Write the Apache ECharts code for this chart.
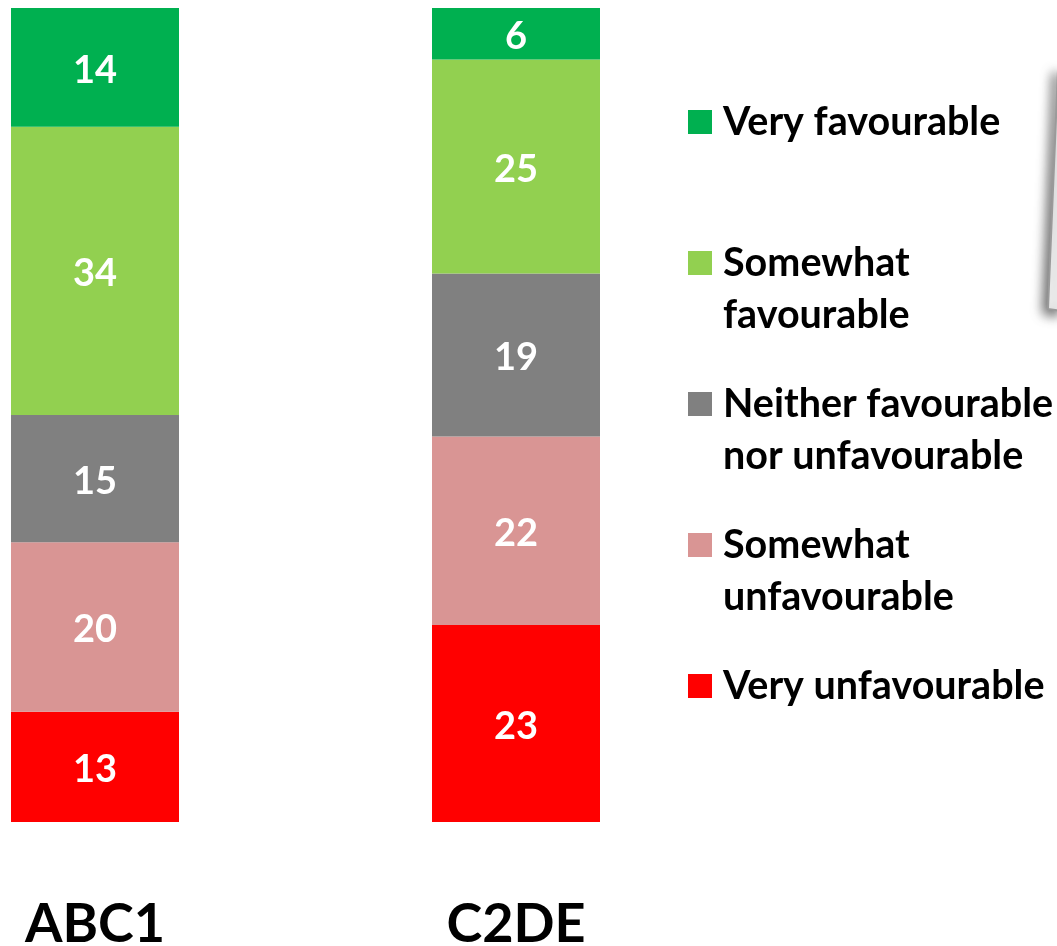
<!DOCTYPE html>
<html>
<head>
<meta charset="utf-8">
<script src="https://cdn.jsdelivr.net/npm/echarts@6/dist/echarts.min.js"></script>
<style>
html,body{margin:0;padding:0;background:#fff;overflow:hidden;}
#chart{width:1057px;height:946px;}
</style>
</head>
<body>
<div id="chart"></div>
<script>
const categories = ['ABC1', 'C2DE'];
const veryFavourable = [14, 6];
const somewhatFavourable = [34, 25];
const neither = [15, 19];
const somewhatUnfavourable = [20, 22];
const veryUnfavourable = [13, 23];

const seriesNames = ['Very unfavourable', 'Somewhat unfavourable', 'Neither favourable nor unfavourable', 'Somewhat favourable', 'Very favourable'];
const legendOrder = ['Very favourable', 'Somewhat favourable', 'Neither favourable nor unfavourable', 'Somewhat unfavourable', 'Very unfavourable'];
const legendLines = {
  'Very favourable': ['Very favourable'],
  'Somewhat favourable': ['Somewhat', 'favourable'],
  'Neither favourable nor unfavourable': ['Neither favourable', 'nor unfavourable'],
  'Somewhat unfavourable': ['Somewhat', 'unfavourable'],
  'Very unfavourable': ['Very unfavourable']
};
const colors = ['#FF0000', '#D99594', '#808080', '#92D050', '#00B050'];
const raw = [veryUnfavourable, somewhatUnfavourable, neither, somewhatFavourable, veryFavourable];

const totals = categories.map((c, j) => raw.reduce((s, arr) => s + arr[j], 0));

const FONT = 'Lato';

const chart = echarts.init(document.getElementById('chart'), null, {renderer: 'canvas', width: 1057, height: 946});

// every legend entry is 3 lines tall, with its first text line centred on the marker
function legendText(n) {
  const lines = legendLines[n].slice();
  const out = ['\u00a0'].concat(lines);
  while (out.length < 3) out.push('\u00a0');
  return out.join('\n');
}

chart.setOption({
  animation: false,
  backgroundColor: '#ffffff',
  grid: {left: 95, width: 421, top: 8, height: 814, containLabel: false, outerBoundsMode: 'none'},
  xAxis: {
    type: 'category',
    data: categories,
    boundaryGap: false,
    axisLine: {show: false},
    axisTick: {show: false},
    splitLine: {show: false},
    axisLabel: {
      color: '#000',
      fontFamily: FONT,
      fontWeight: 'bold',
      fontSize: 54,
      lineHeight: 64,
      verticalAlign: 'top',
      margin: 71
    }
  },
  yAxis: {type: 'value', min: 0, max: 100, show: false},
  legend: {
    orient: 'vertical',
    left: 688,
    top: 44,
    padding: 0,
    itemGap: -15,
    itemWidth: 24,
    itemHeight: 24,
    icon: 'rect',
    selectedMode: false,
    formatter: n => legendText(n),
    textStyle: {color: '#000', fontFamily: FONT, fontWeight: 'bold', fontSize: 39.5, lineHeight: 52, padding: [0, 0, 0, 6]},
    data: legendOrder
  },
  graphic: [{
    type: 'polygon',
    shape: {points: [[1058, 70], [1048, 309], [1062, 311], [1062, 70]]},
    style: {fill: '#fff', stroke: '#9a9a9a', lineWidth: 2, shadowBlur: 12, shadowColor: 'rgba(0,0,0,0.6)', shadowOffsetX: -4, shadowOffsetY: 4},
    z: 10
  }],
  series: seriesNames.map((name, i) => ({
    name: name,
    type: 'bar',
    stack: 'total',
    barWidth: 168,
    itemStyle: {color: colors[i]},
    data: raw[i].map((v, j) => v / totals[j] * 100),
    label: {
      show: true,
      position: 'inside',
      offset: [0, 3],
      color: '#fff',
      fontFamily: FONT,
      fontWeight: 'bold',
      fontSize: 38,
      formatter: p => String(raw[i][p.dataIndex])
    }
  }))
});
</script>
</body>
</html>
